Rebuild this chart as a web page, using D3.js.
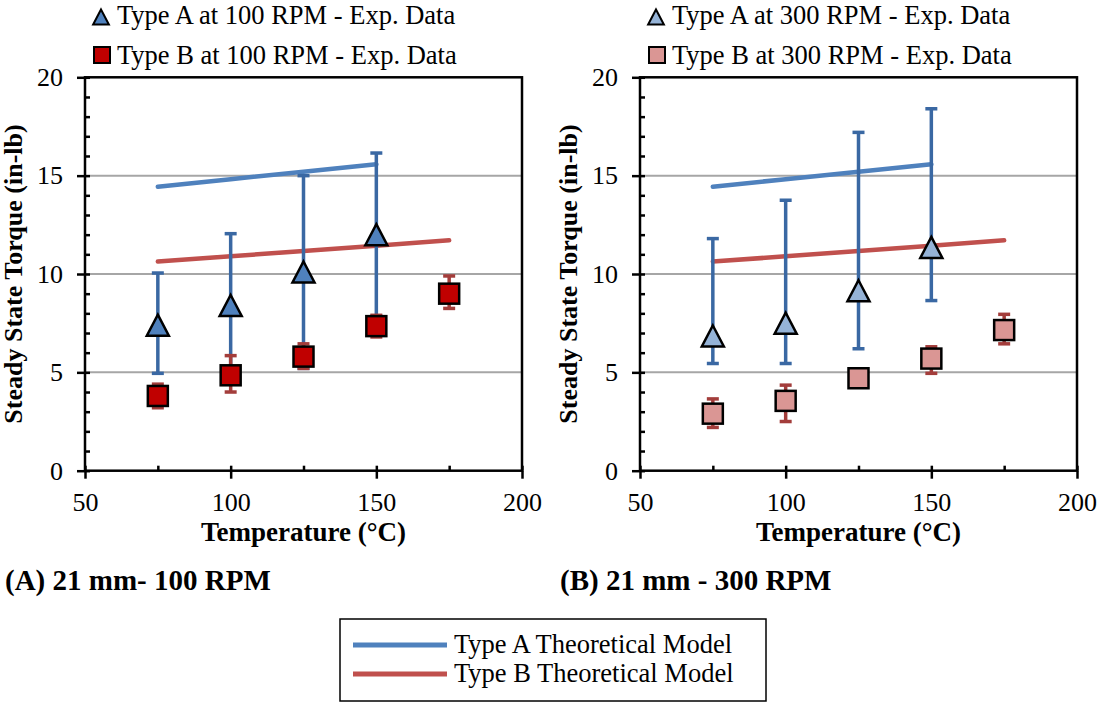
<!DOCTYPE html>
<html>
<head>
<meta charset="utf-8">
<script src="https://cdn.jsdelivr.net/npm/d3@7"></script>
<style>
  body { margin: 0; background: #fff; }
  text { font-family: 'Liberation Serif', 'Times New Roman', serif; fill: #000; }
</style>
</head>
<body>
<div id="chart"></div>
<script>
// temperatures (°C)
var temps = [75, 100, 125, 150, 175];
var tempsA = [75, 100, 125, 150];

// theoretical models (same in both panels)
var modelA = [14.44, 14.82, 15.2, 15.58];
var modelB = [10.63, 10.9, 11.17, 11.44, 11.71];

// 100 RPM experimental data
var typeA100 = [7.4, 8.4, 10.1, 12.0];
var typeA100Lo = [4.95, 4.75, 5.2, 7.85];
var typeA100Hi = [10.05, 12.05, 15.0, 16.15];
var typeB100 = [3.8, 4.85, 5.8, 7.35, 9.0];
var typeB100Lo = [3.2, 4.0, 5.2, 6.8, 8.25];
var typeB100Hi = [4.4, 5.85, 6.45, 7.9, 9.9];

// 300 RPM experimental data
var typeA300 = [6.85, 7.5, 9.15, 11.35];
var typeA300Lo = [5.45, 5.45, 6.2, 8.65];
var typeA300Hi = [11.8, 13.75, 17.2, 18.4];
var typeB300 = [2.9, 3.55, 4.7, 5.7, 7.15];
var typeB300Lo = [2.2, 2.5, 4.3, 4.95, 6.45];
var typeB300Hi = [3.65, 4.35, 5.1, 6.3, 7.95];

var yTicks = [0, 5, 10, 15, 20];
var xTicks = [50, 100, 150, 200];

var width = 1101, height = 704;

var svg = d3.select('#chart')
  .append('svg')
  .attr('width', width)
  .attr('height', height);

var plotLeft = 85, plotW = 437, plotTop = 77.3, plotBottom = 470.7;

function trianglePath(r) {
  return 'M0,' + (-r) + 'L' + (r * 1.05) + ',' + r + 'L' + (-r * 1.05) + ',' + r + 'Z';
}

function zip(xs, vs, lo, hi) {
  return xs.map(function(x, i) {
    return { x: x, v: vs[i], lo: lo ? lo[i] : null, hi: hi ? hi[i] : null };
  });
}

function drawPanel(ox, p) {
  var g = svg.append('g').attr('transform', 'translate(' + ox + ',0)');

  var x = d3.scaleLinear().domain([50, 200]).range([plotLeft, plotLeft + plotW]);
  var y = d3.scaleLinear().domain([0, 20]).range([plotBottom, plotTop]);

  // gridlines
  g.append('g').selectAll('line')
    .data([5, 10, 15])
    .enter().append('line')
    .attr('x1', plotLeft).attr('x2', plotLeft + plotW)
    .attr('y1', function(d) { return y(d); })
    .attr('y2', function(d) { return y(d); })
    .attr('stroke', '#a6a6a6')
    .attr('stroke-width', 2);

  // minor ticks inside
  var yMinor = d3.axisRight(y).ticks(20).tickSize(5).tickFormat('');
  g.append('g').attr('class', 'y-minor')
    .attr('transform', 'translate(' + plotLeft + ',0)')
    .call(yMinor);
  var xMinor = d3.axisTop(x).tickValues(d3.range(50, 201, 25)).tickSize(5).tickFormat('');
  g.append('g').attr('class', 'x-minor')
    .attr('transform', 'translate(0,' + plotBottom + ')')
    .call(xMinor);

  // major ticks and labels
  var yAxis = d3.axisLeft(y).tickValues(yTicks).tickSize(8).tickPadding(14);
  g.append('g').attr('class', 'y-axis')
    .attr('transform', 'translate(' + plotLeft + ',0)')
    .call(yAxis);
  var xAxis = d3.axisBottom(x).tickValues(xTicks).tickSize(8).tickPadding(14);
  g.append('g').attr('class', 'x-axis')
    .attr('transform', 'translate(0,' + plotBottom + ')')
    .call(xAxis);

  g.selectAll('.domain').remove();
  g.selectAll('.tick line').attr('stroke', '#000').attr('stroke-width', 2.5);
  g.selectAll('.tick text')
    .style('font-family', "'Liberation Serif', 'Times New Roman', serif")
    .style('font-size', '26px')
    .attr('fill', '#000');

  // frame
  g.append('rect')
    .attr('x', plotLeft).attr('y', plotTop)
    .attr('width', plotW).attr('height', plotBottom - plotTop)
    .attr('fill', 'none')
    .attr('stroke', '#000')
    .attr('stroke-width', 2.5);

  // theoretical model lines
  var line = d3.line()
    .x(function(d) { return x(d.x); })
    .y(function(d) { return y(d.v); });
  g.append('path')
    .datum(zip(tempsA, modelA))
    .attr('d', line)
    .attr('fill', 'none')
    .attr('stroke', '#4f81bd')
    .attr('stroke-width', 4.5)
    .attr('stroke-linecap', 'round');
  g.append('path')
    .datum(zip(temps, modelB))
    .attr('d', line)
    .attr('fill', 'none')
    .attr('stroke', '#c0504d')
    .attr('stroke-width', 4.5)
    .attr('stroke-linecap', 'round');

  function errorBars(data, color) {
    var eg = g.append('g').attr('stroke', color).attr('stroke-width', 3.5);
    eg.selectAll('line.bar')
      .data(data).enter().append('line')
      .attr('class', 'bar')
      .attr('x1', function(d) { return x(d.x); })
      .attr('x2', function(d) { return x(d.x); })
      .attr('y1', function(d) { return y(d.lo); })
      .attr('y2', function(d) { return y(d.hi); });
    eg.selectAll('line.caplo')
      .data(data).enter().append('line')
      .attr('class', 'caplo')
      .attr('x1', function(d) { return x(d.x) - 6; })
      .attr('x2', function(d) { return x(d.x) + 6; })
      .attr('y1', function(d) { return y(d.lo); })
      .attr('y2', function(d) { return y(d.lo); });
    eg.selectAll('line.caphi')
      .data(data).enter().append('line')
      .attr('class', 'caphi')
      .attr('x1', function(d) { return x(d.x) - 6; })
      .attr('x2', function(d) { return x(d.x) + 6; })
      .attr('y1', function(d) { return y(d.hi); })
      .attr('y2', function(d) { return y(d.hi); });
  }

  var dataA = zip(tempsA, p.a, p.aLo, p.aHi);
  var dataB = zip(temps, p.b, p.bLo, p.bHi);

  errorBars(dataA, '#3a68a3');
  g.append('g').selectAll('path')
    .data(dataA).enter().append('path')
    .attr('d', trianglePath(10.5))
    .attr('transform', function(d) { return 'translate(' + x(d.x) + ',' + y(d.v) + ')'; })
    .attr('fill', p.colorA)
    .attr('stroke', '#000')
    .attr('stroke-width', 2.5)
    .attr('stroke-linejoin', 'miter');

  errorBars(dataB, '#a33d3b');
  g.append('g').selectAll('rect')
    .data(dataB).enter().append('rect')
    .attr('x', function(d) { return x(d.x) - 10; })
    .attr('y', function(d) { return y(d.v) - 10; })
    .attr('width', 20).attr('height', 20)
    .attr('fill', p.colorB)
    .attr('stroke', '#000')
    .attr('stroke-width', 2.5);

  // top legend
  g.append('path')
    .attr('d', trianglePath(7.5))
    .attr('transform', 'translate(101,17)')
    .attr('fill', p.colorA)
    .attr('stroke', '#000')
    .attr('stroke-width', 2);
  g.append('text')
    .attr('x', 117).attr('y', 24)
    .style('font-size', '26.5px')
    .text(p.legendA);
  g.append('rect')
    .attr('x', 94).attr('y', 47)
    .attr('width', 16).attr('height', 16)
    .attr('fill', p.colorB)
    .attr('stroke', '#000')
    .attr('stroke-width', 2);
  g.append('text')
    .attr('x', 117).attr('y', 64)
    .style('font-size', '26.5px')
    .text(p.legendB);

  // axis titles
  g.append('text')
    .attr('transform', 'translate(22,' + ((plotTop + plotBottom) / 2) + ') rotate(-90)')
    .attr('text-anchor', 'middle')
    .style('font-size', '26px')
    .style('font-weight', 'bold')
    .text('Steady State Torque (in-lb)');
  g.append('text')
    .attr('x', plotLeft + plotW / 2).attr('y', 541)
    .attr('text-anchor', 'middle')
    .style('font-size', '27px')
    .style('font-weight', 'bold')
    .text('Temperature (°C)');

  // panel caption
  g.append('text')
    .attr('x', 5).attr('y', 590)
    .style('font-size', '29px')
    .style('font-weight', 'bold')
    .text(p.caption);
}

drawPanel(0, {
  a: typeA100, aLo: typeA100Lo, aHi: typeA100Hi,
  b: typeB100, bLo: typeB100Lo, bHi: typeB100Hi,
  colorA: '#4f81bd', colorB: '#c00000',
  legendA: 'Type A at 100 RPM - Exp. Data',
  legendB: 'Type B at 100 RPM - Exp. Data',
  caption: '(A) 21 mm- 100 RPM'
});

drawPanel(555, {
  a: typeA300, aLo: typeA300Lo, aHi: typeA300Hi,
  b: typeB300, bLo: typeB300Lo, bHi: typeB300Hi,
  colorA: '#95b3d7', colorB: '#da9694',
  legendA: 'Type A at 300 RPM - Exp. Data',
  legendB: 'Type B at 300 RPM - Exp. Data',
  caption: '(B) 21 mm - 300 RPM'
});

// bottom legend
var legend = svg.append('g');
legend.append('rect')
  .attr('x', 340).attr('y', 619)
  .attr('width', 426).attr('height', 82)
  .attr('fill', 'none')
  .attr('stroke', '#000')
  .attr('stroke-width', 1.5);
var legendItems = [
  { label: 'Type A Theoretical Model', color: '#4f81bd' },
  { label: 'Type B Theoretical Model', color: '#c0504d' }
];
legend.selectAll('line')
  .data(legendItems).enter().append('line')
  .attr('x1', 353).attr('x2', 447)
  .attr('y1', function(d, i) { return 645 + i * 29; })
  .attr('y2', function(d, i) { return 645 + i * 29; })
  .attr('stroke', function(d) { return d.color; })
  .attr('stroke-width', 5);
legend.selectAll('text')
  .data(legendItems).enter().append('text')
  .attr('x', 454)
  .attr('y', function(d, i) { return 653 + i * 29; })
  .style('font-size', '26.5px')
  .text(function(d) { return d.label; });
</script>
</body>
</html>
